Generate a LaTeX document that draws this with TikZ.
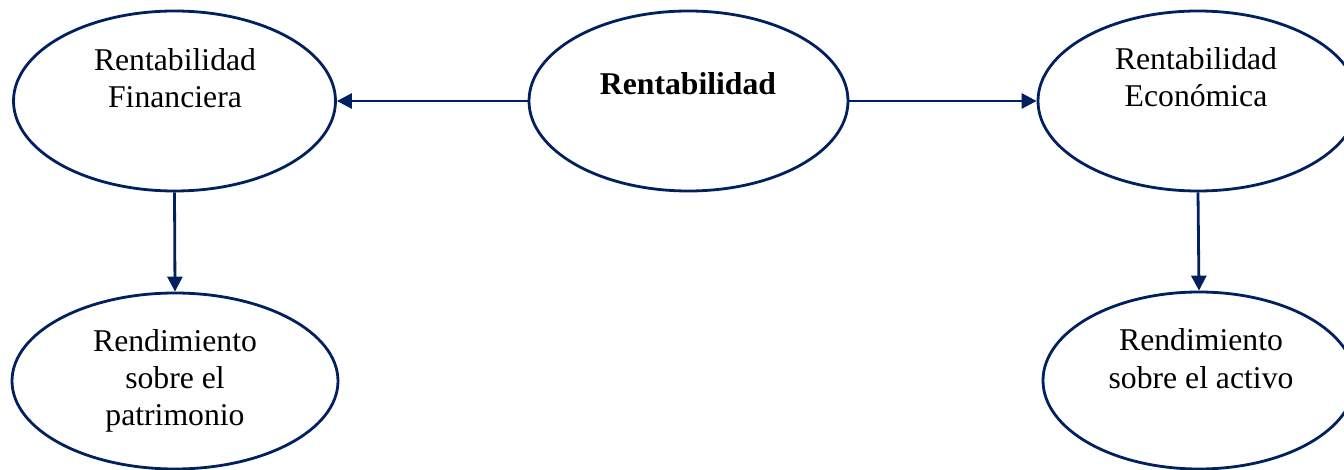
\documentclass[tikz,border=0pt]{standalone}
\usepackage{fontspec}
\setmainfont{Liberation Serif}
\usetikzlibrary{shapes.geometric,arrows.meta}
\definecolor{navy}{RGB}{0,32,96}
\tikzset{
  oval/.style={ellipse, draw=navy, line width=2.8pt, inner sep=0pt, fill=white},
  arr/.style={draw=navy, line width=2.8pt, -{Triangle[length=15pt,width=15pt]}},
  lbl/.style={anchor=base, inner sep=0pt, align=center, font=\fontsize{31.7}{36.7}\selectfont}
}
\begin{document}
\begin{tikzpicture}[x=1pt,y=-1pt]
\useasboundingbox (0,0) rectangle (1344,470);
\clip (0,0) rectangle (1344,470);
\fill[white] (0,0) rectangle (1344,470);
\node[oval, minimum width=322pt, minimum height=180pt] (lt) at (174.5,101) {};
\node[oval, minimum width=319pt, minimum height=180pt] (c) at (688.5,101) {};
\node[oval, minimum width=320pt, minimum height=180pt] (rt) at (1198,101) {};
\node[oval, minimum width=326pt, minimum height=176pt] (lb) at (175,381) {};
\node[oval, minimum width=312pt, minimum height=177pt] (rb) at (1199,380.5) {};
\node[lbl] (tlt1) at (175,71) {Rentabilidad};
\node[lbl] (tlt2) at (175,107.5) {Financiera};
\node[lbl, font=\fontsize{31.7}{36.7}\selectfont\bfseries] (tc) at (688,95) {Rentabilidad};
\node[lbl] (trt1) at (1196,70) {Rentabilidad};
\node[lbl] (trt2) at (1196,107) {Económica};
\node[lbl] (tlb1) at (175,352) {Rendimiento};
\node[lbl] (tlb2) at (175,388.5) {sobre el};
\node[lbl] (tlb3) at (175,425) {patrimonio};
\node[lbl] (trb1) at (1201,350) {Rendimiento};
\node[lbl] (trb2) at (1201,388) {sobre el activo};
\draw[arr] (c.west) -- (lt.east);
\draw[arr] (c.east) -- (rt.west);
\draw[arr] (lt.south) -- (lb.north);
\draw[arr] (rt.south) -- (rb.north);
\end{tikzpicture}
\end{document}
